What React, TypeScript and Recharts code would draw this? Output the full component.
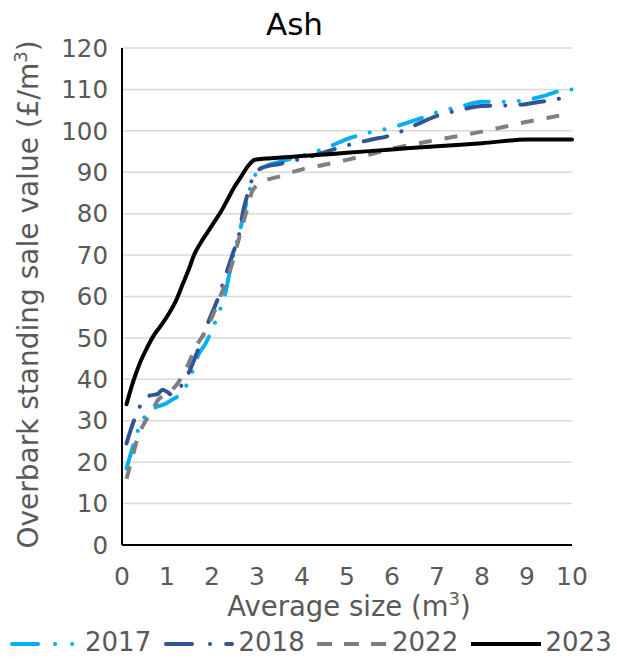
import React from "react";
import { LineChart, Line, XAxis, YAxis, CartesianGrid, Legend } from "recharts";

// values
const sizes2017 = [0.1, 0.25, 0.4, 0.6, 0.8, 0.95, 1.1, 1.3, 1.5, 1.7, 1.85, 2.0, 2.15, 2.3, 2.45, 2.6, 2.75, 2.9, 3.05, 3.2, 3.5, 4.0, 4.5, 5.0, 5.5, 6.0, 6.5, 7.0, 7.5, 8.0, 8.5, 9.0, 9.4, 9.75, 10];
const values2017 = [18.5, 24, 29, 32, 33.5, 34, 35, 36.5, 40, 46, 48.5, 52, 56, 61, 69, 75, 82, 88, 90.5, 91.5, 92.5, 94, 95.7, 98, 99.6, 100.8, 102.5, 104.5, 105.8, 107, 107, 107.5, 108.5, 109.7, 110];

const sizes2018 = [0.1, 0.2, 0.3, 0.45, 0.6, 0.8, 0.9, 1.0, 1.1, 1.3, 1.5, 1.65, 1.85, 2.0, 2.15, 2.3, 2.45, 2.6, 2.7, 2.8, 2.9, 3.1, 3.5, 4.0, 4.5, 5.0, 5.5, 6.0, 6.5, 7.0, 7.5, 8.0, 8.5, 9.0, 9.3, 9.65, 10];
const values2018 = [24.5, 28, 31, 34.5, 36, 36.5, 37.5, 37, 36.3, 38.2, 42, 46, 52, 56, 60, 65, 70, 75, 81, 85, 88.5, 91, 92, 93.3, 94.8, 96.5, 97.8, 99, 101.3, 103.6, 105, 106, 106.1, 106.5, 107, 107.6, 108.5];

const sizes2022 = [0.1, 0.25, 0.35, 0.5, 0.65, 0.8, 1.0, 1.2, 1.4, 1.65, 1.85, 2.0, 2.2, 2.35, 2.55, 2.75, 2.9, 3.1, 3.5, 4.0, 4.5, 5.0, 5.5, 6.0, 6.5, 7.0, 7.5, 8.0, 8.5, 9.0, 9.5, 10];
const values2022 = [16, 22, 26, 29.5, 32, 35, 36.5, 38.5, 42, 48, 51.5, 55, 60.5, 64.5, 72, 80, 85.5, 87.5, 89, 90.7, 91.8, 93, 94.3, 95.7, 96.8, 97.8, 98.8, 99.8, 101, 102.2, 103.2, 104.3];

const sizes2023 = [0.1, 0.25, 0.4, 0.55, 0.7, 0.9, 1.05, 1.2, 1.35, 1.5, 1.6, 1.75, 1.9, 2.05, 2.2, 2.35, 2.5, 2.65, 2.8, 2.95, 3.2, 3.6, 4.0, 5.0, 6.0, 7.0, 8.0, 9.0, 10];
const values2023 = [34, 39.5, 44, 47.5, 50.5, 53.5, 56, 59, 63, 67, 70, 73, 75.5, 78, 80.5, 83.5, 86.5, 89, 91.5, 93, 93.3, 93.6, 93.9, 94.7, 95.5, 96.3, 97, 97.9, 97.9];

const xTicks = [0, 1, 2, 3, 4, 5, 6, 7, 8, 9, 10];
const yTicks = [0, 10, 20, 30, 40, 50, 60, 70, 80, 90, 100, 110, 120];

const FONT = "'DejaVu Sans', Verdana, sans-serif";
const TICK = "#595959";

const toPoints = (xs: number[], ys: number[]) => xs.map((x, i) => ({ x, y: ys[i] }));

const series = [
  { name: "2017", color: "#00B0F0", dash: "24 15 0.1 15 0.1 15", cap: "round", keyDash: "26 17 0.1 17 0.1 40", keyCap: "round", keyEnd: 66, data: toPoints(sizes2017, values2017) },
  { name: "2018", color: "#2F5597", dash: "24 15 0.1 15", cap: "round", keyDash: "26 18 0.1 16 26", keyCap: "round", keyEnd: 70, data: toPoints(sizes2018, values2018) },
  { name: "2022", color: "#7F7F7F", dash: "13 13", cap: "butt", keyDash: "15 12", keyCap: "butt", keyEnd: 72, data: toPoints(sizes2022, values2022) },
  { name: "2023", color: "#000000", dash: undefined, cap: "round", keyDash: undefined, keyCap: "butt", keyEnd: 72, data: toPoints(sizes2023, values2023) },
];

function LegendRow() {
  return (
    <div style={{ position: "relative", width: 617, height: 36, fontFamily: FONT, fontSize: 26, color: TICK, whiteSpace: "nowrap" }}>
      {series.map((s, i) => {
        const left = 10 + i * 153.5;
        const round = s.keyCap === "round";
        return (
          <React.Fragment key={s.name}>
            <svg width={76} height={12} style={{ position: "absolute", left: left - 2, top: 15 }}>
              <line x1={round ? 4 : 2} y1={6} x2={s.keyEnd} y2={6} stroke={s.color} strokeWidth={4}
                strokeDasharray={s.keyDash} strokeLinecap={s.keyCap as any} />
            </svg>
            <span style={{ position: "absolute", left: left + 75, top: 1, lineHeight: "36px" }}>{s.name}</span>
          </React.Fragment>
        );
      })}
    </div>
  );
}

export default function App() {
  return (
    <div style={{ position: "absolute", left: 0, top: 0, width: 617, height: 659, background: "#fff" }}>
      <svg width={617} height={48} style={{ position: "absolute", left: 0, top: 0, zIndex: 2 }}>
        <text x={294.5} y={35} textAnchor="middle" fontFamily={FONT} fontSize={31} fill="#000">Ash</text>
      </svg>
      <LineChart width={617} height={659} margin={{ top: 48, right: 45, bottom: 0, left: 0 }}>
        <CartesianGrid vertical={false} stroke="#D9D9D9" strokeWidth={1.5} />
        <XAxis
          type="number"
          dataKey="x"
          domain={[0, 10]}
          ticks={xTicks}
          height={78}
          axisLine={{ stroke: "#000", strokeWidth: 2 }}
          tickLine={false}
          tickMargin={16}
          tick={{ fill: TICK, fontSize: 25, fontFamily: FONT }}
          label={{
            content: ({ viewBox }: any) => (
              <text x={viewBox.x + viewBox.width / 2 + 2} y={viewBox.y + 71} textAnchor="middle" fill={TICK} fontSize={27.5} fontFamily={FONT}>
                Average size (m<tspan fontSize={18} dy={-11}>3</tspan><tspan dy={11}>)</tspan>
              </text>
            ),
          }}
        />
        <YAxis
          type="number"
          domain={[0, 120]}
          ticks={yTicks}
          width={122}
          interval={0}
          axisLine={{ stroke: "#000", strokeWidth: 2 }}
          tickLine={false}
          tickMargin={8}
          tick={{ fill: TICK, fontSize: 24.5, fontFamily: FONT }}
          label={{
            content: ({ viewBox }: any) => {
              const cx = 38;
              const cy = viewBox.y + viewBox.height / 2 - 2;
              return (
                <text x={cx} y={cy} transform={`rotate(-90 ${cx} ${cy})`} textAnchor="middle" fill={TICK} fontSize={28} fontFamily={FONT}>
                  Overbark standing sale value (£/m<tspan fontSize={18} dy={-11}>3</tspan><tspan dy={11}>)</tspan>
                </text>
              );
            },
          }}
        />
        <Legend verticalAlign="bottom" align="left" height={36} wrapperStyle={{ left: 0 }} content={() => <LegendRow />} />
        {series.map((s) => (
          <Line
            key={s.name}
            data={s.data}
            dataKey="y"
            name={s.name}
            type="monotone"
            stroke={s.color}
            strokeWidth={4}
            strokeDasharray={s.dash}
            strokeLinecap={s.cap as any}
            dot={false}
            activeDot={false}
            isAnimationActive={false}
          />
        ))}
      </LineChart>
    </div>
  );
}
